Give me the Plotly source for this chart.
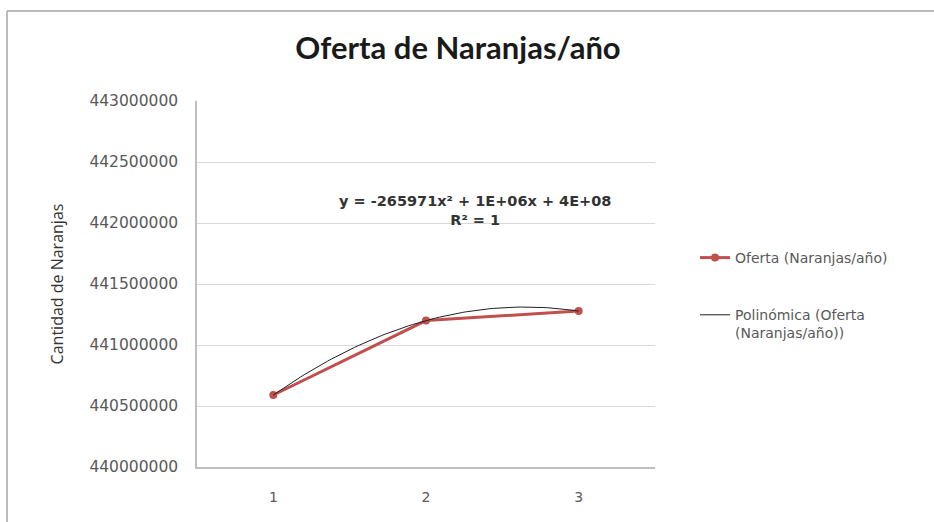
import numpy as np
import plotly.graph_objects as go

# Annual orange supply
years = [1, 2, 3]
oferta = [440590000, 441200000, 441278058]
y_ticks = [440000000, 440500000, 441000000, 441500000, 442000000, 442500000, 443000000]
x_ticks = [1, 2, 3]

RED = "#C0504D"
W, H = 934, 522
# plot-area box in pixels
L, R, T, B = 197, 655, 101, 467


def px_x(p):
    return (p - L) / (R - L)


def px_y(p):
    return (B - p) / (B - T)


# second-order polynomial trendline
coef = np.polyfit(years, oferta, 2)
xs = np.linspace(1, 3, 80)
ys = np.polyval(coef, xs)
pred = np.polyval(coef, years)
ss_res = np.sum((np.array(oferta) - pred) ** 2)
ss_tot = np.sum((np.array(oferta) - np.mean(oferta)) ** 2)
r2 = 1 - ss_res / ss_tot
eq_text = (f"y = {coef[0]:.0f}x\u00b2 + {coef[1]:.0E}x + {coef[2]:.0E}"
           + f"<br>R\u00b2 = {r2:.0f}")

fig = go.Figure()
fig.add_trace(go.Scatter(
    x=years, y=oferta, mode="lines+markers",
    name="Oferta (Naranjas/año)",
    line=dict(color=RED, width=3),
    marker=dict(color=RED, size=8),
    legendgroup="a",
))
fig.add_trace(go.Scatter(
    x=xs, y=ys, mode="lines",
    name="Polinómica (Oferta<br>(Naranjas/año))",
    line=dict(color="#202020", width=1),
    legendgroup="b",
))

fig.update_layout(
    width=W, height=H,
    margin=dict(l=L, r=W - R, t=T, b=H - B),
    paper_bgcolor="white", plot_bgcolor="white",
    title=dict(text="Oferta de Naranjas/año", x=px_x(458), xref="paper", xanchor="center",
               y=1 - 48 / H, yanchor="middle",
               font=dict(family="Lato", size=31, color="#1a1a1a", weight="bold")),
    font=dict(family="DejaVu Sans", color="#595959"),
    legend=dict(x=px_x(695), y=px_y(242), xanchor="left", yanchor="top",
                traceorder="grouped", tracegroupgap=36, valign="top",
                font=dict(family="DejaVu Sans", size=14, color="#595959"),
                bgcolor="rgba(0,0,0,0)"),
    showlegend=True,
)
fig.update_xaxes(
    range=[0.5, 3.5], tickvals=x_ticks, ticktext=[str(v) for v in x_ticks],
    showgrid=False, zeroline=False, showline=True, linecolor="#bfbfbf", linewidth=1.5,
    ticks="", tickfont=dict(family="DejaVu Sans", size=14, color="#595959"),
    ticklabelstandoff=16,
)
fig.update_yaxes(
    range=[440000000, 443000000], tickvals=y_ticks, ticktext=[str(v) for v in y_ticks],
    showgrid=True, gridcolor="#d9d9d9", gridwidth=1, zeroline=False,
    showline=True, linecolor="#bfbfbf", linewidth=1.5, ticks="",
    tickfont=dict(family="DejaVu Sans", size=15.5, color="#595959"),
    ticklabelstandoff=14,
    title=dict(text="Cantidad de Naranjas", standoff=22,
               font=dict(family="Open Sans", size=16, color="#333333")),
)

fig.add_annotation(
    x=px_x(475), y=px_y(210), xref="paper", yref="paper", yanchor="middle",
    text=eq_text, showarrow=False, align="center",
    font=dict(family="DejaVu Sans", size=14.5, color="#333333", weight="bold"),
)

# outer chart frame (left and top edges visible)
fig.add_shape(type="line", xref="paper", yref="paper",
              x0=px_x(7), x1=px_x(7), y0=px_y(11), y1=px_y(540),
              line=dict(color="#a6a6a6", width=1.5))
fig.add_shape(type="line", xref="paper", yref="paper",
              x0=px_x(7), x1=px_x(950), y0=px_y(11), y1=px_y(11),
              line=dict(color="#a6a6a6", width=1.5))

fig.write_html("out.html")
